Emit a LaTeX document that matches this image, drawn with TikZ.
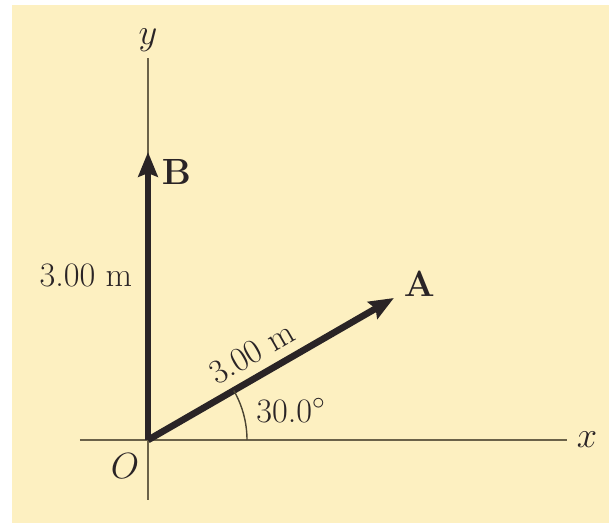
\documentclass[tikz,border=0pt]{standalone}
\usepackage{amsmath, amssymb}
\usepackage{tikz}
\usetikzlibrary{positioning, arrows.meta, calc}
\definecolor{paper}{HTML}{FDF0C1}
\definecolor{axiscol}{HTML}{6B6249}
\definecolor{veccol}{HTML}{2A2426}

\begin{document}
\begin{tikzpicture}[
  font=\fontsize{19.5}{22}\selectfont,
  axis/.style={draw=axiscol, line width=1.2pt},
  vec/.style={draw=veccol, line width=3.8pt, -{Stealth[length=14pt, width=11pt, inset=2pt]}},
  lbl/.style={text=veccol, inner sep=2pt},
  >=Latex
]
% page: white margin with the beige panel
\fill[white] (-2.96,-1.66) rectangle (9.22,8.80);
\fill[paper] (-2.72,-1.66) rectangle (9.22,8.70);
\useasboundingbox (-2.96,-1.66) rectangle (9.22,8.80);
% axes
\coordinate (O) at (0,0);
\coordinate (xl) at (-1.36,0);
\coordinate (xr) at (8.38,0);
\coordinate (yb) at (0,-1.20);
\coordinate (yt) at (0,7.64);
\draw[axis] (xl) -- (xr);
\draw[axis] (yb) -- (yt);
\node[lbl, right=0.12cm of xr] (xlab) {$x$};
\node[lbl, above=0.06cm of yt] (ylab) {$y$};
\node[lbl] (olab) at (-0.46,-0.52) {$O$};
% the two vectors, both 3.00 m long
\coordinate (B) at (90:5.76);
\coordinate (A) at (30:5.68);
\draw[vec] (O) -- node[lbl, pos=0.57, left=0.18cm] (blen) {3.00 m} (B);
\draw[vec] (O) -- node[lbl, pos=0.47, above, sloped, yshift=3pt] (alen) {3.00 m} (A);
\node[lbl, right=0.2cm of B, yshift=-0.4cm] (blab) {$\mathbf{B}$};
\node[lbl, right=0.12cm of A, yshift=0.28cm] (alab) {$\mathbf{A}$};
% angle between A and the x axis
\draw[axiscol!70!black, line width=0.8pt] (1.98,0) arc[start angle=0, end angle=30, radius=1.98];
\node[lbl] (ang) at (2.86,0.58) {30.0$^\circ$};
\end{tikzpicture}
\end{document}
